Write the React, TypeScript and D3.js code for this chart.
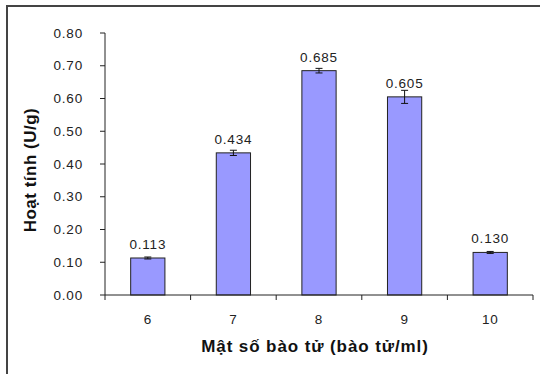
import React from "react";
import * as d3 from "d3";

const categories = ["6", "7", "8", "9", "10"];
const values = [0.113, 0.434, 0.685, 0.605, 0.13];
const errors = [0.003, 0.008, 0.007, 0.02, 0.003];
const valueLabels = ["0.113", "0.434", "0.685", "0.605", "0.130"];
const yTicks = [0, 0.1, 0.2, 0.3, 0.4, 0.5, 0.6, 0.7, 0.8];

const W = 540, H = 374;
const left = 105, right = 533, top = 33, bottom = 295;

export default function App() {
  const x = d3.scaleBand<string>().domain(categories).range([left, right]).paddingInner(0).paddingOuter(0);
  const y = d3.scaleLinear().domain([0, 0.8]).range([bottom, top]);
  const bw = x.bandwidth() * 0.4;
  const font = "'Liberation Sans', Arial, sans-serif";
  const txt = "#222";
  const fs = 13.5;
  const ls = 0.8;
  return (
    <svg width={W} height={H} style={{ position: "absolute", left: 0, top: 0, background: "#fff" }}>
      <rect x={7} y={6} width={W} height={H} fill="#fff" stroke="#444" strokeWidth={2} />
      {/* y axis */}
      <line x1={left} x2={left} y1={top} y2={bottom} stroke="#222" />
      {yTicks.map((t) => (
        <g key={t}>
          <line x1={left - 5} x2={left} y1={y(t)} y2={y(t)} stroke="#222" />
          <text x={83} y={y(t)} dy="0.35em" textAnchor="end" fontFamily={font} fontSize={fs} letterSpacing={ls} fill={txt}>
            {d3.format(".2f")(t)}
          </text>
        </g>
      ))}
      {/* bars */}
      {categories.map((c, i) => {
        const cx = (x(c) as number) + x.bandwidth() / 2;
        const v = values[i], e = errors[i];
        return (
          <g key={c}>
            <rect x={cx - bw / 2} y={y(v)} width={bw} height={bottom - y(v)} fill="#9999FF" stroke="#222" strokeWidth={1} />
            <line x1={cx} x2={cx} y1={y(v + e)} y2={y(v - e)} stroke="#111" />
            <line x1={cx - 3.5} x2={cx + 3.5} y1={y(v + e)} y2={y(v + e)} stroke="#111" />
            <line x1={cx - 3.5} x2={cx + 3.5} y1={y(v - e)} y2={y(v - e)} stroke="#111" />
            <text x={cx} y={y(v) - 9} textAnchor="middle" fontFamily={font} fontSize={fs} letterSpacing={ls} fill={txt}>
              {valueLabels[i]}
            </text>
            <text x={cx} y={319} dy="0.35em" textAnchor="middle" fontFamily={font} fontSize={fs} letterSpacing={ls} fill={txt}>
              {c}
            </text>
          </g>
        );
      })}
      {/* x axis */}
      <line x1={left} x2={right} y1={bottom} y2={bottom} stroke="#222" />
      {[...categories.map((c) => x(c) as number), right].map((t, i) => (
        <line key={i} x1={t} x2={t} y1={bottom} y2={bottom + 5} stroke="#222" />
      ))}
      <text x={315} y={346} dy="0.35em" textAnchor="middle" fontFamily={font} fontSize={17} fontWeight="bold" letterSpacing={0.9} fill="#111">
        Mật số bào tử (bào tử/ml)
      </text>
      <text transform={`translate(30,170) rotate(-90)`} dy="0.35em" textAnchor="middle" fontFamily={font} fontSize={17} fontWeight="bold" letterSpacing={0.5} fill="#111">
        Hoạt tính (U/g)
      </text>
    </svg>
  );
}
